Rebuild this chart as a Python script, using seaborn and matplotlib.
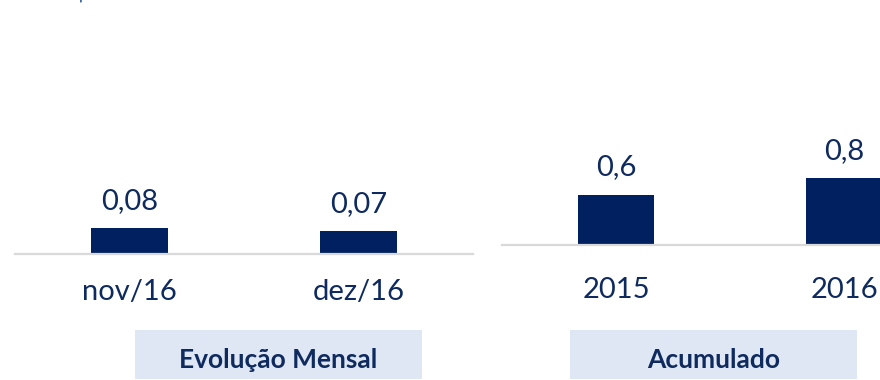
import matplotlib
matplotlib.use("Agg")
import matplotlib.pyplot as plt
from matplotlib.patches import Rectangle
import seaborn as sns
import pandas as pd

# Monthly evolution
monthly_labels = ["nov/16", "dez/16"]
monthly_values = [0.08, 0.07]

# Accumulated per year
yearly_labels = ["2015", "2016"]
yearly_values = [0.6, 0.8]

panel_titles = ["Evolução Mensal", "Acumulado"]
unit_note = "Em R$ milhões"

NAVY = "#002060"
TEXT = "#0E2A5E"
BOX = "#DEE7F3"
AXIS_GREY = "#D9D9D9"

sns.set_theme(style="white")
plt.rcParams["font.family"] = ["Lato", "DejaVu Sans"]

W, H = 880, 380
fig = plt.figure(figsize=(W / 100, H / 100), dpi=100)


def px_rect(x0, y_base, width, height):
    """Axes rect in figure fractions from pixel coordinates (y measured from top)."""
    return [x0 / W, (H - y_base) / H, width / W, height / H]


def fmt(v, decimals):
    return f"{v:.{decimals}f}".replace(".", ",")


def draw_panel(ax, labels, values, ylim, xlim, decimals, label_pad):
    df = pd.DataFrame({"cat": labels, "val": values})
    sns.barplot(data=df, x="cat", y="val", ax=ax, color=NAVY, width=0.333,
                saturation=1, edgecolor="none")
    ax.set_xlim(*xlim)
    ax.set_ylim(*ylim)
    ax.set_xlabel("")
    ax.set_ylabel("")
    ax.set_yticks([])
    sns.despine(ax=ax, left=True, top=True, right=True)
    ax.spines["bottom"].set_color(AXIS_GREY)
    ax.spines["bottom"].set_linewidth(1.6)
    ax.tick_params(axis="x", length=0, pad=label_pad, labelsize=21,
                   labelcolor=TEXT)
    ax.patch.set_alpha(0)
    for i, v in enumerate(values):
        ax.annotate(fmt(v, decimals), xy=(i, v), xytext=(0, 14),
                    textcoords="offset points", ha="center", va="baseline",
                    fontsize=21, color=TEXT)


ax_left = fig.add_axes(px_rect(15, 254, 458, 194))
draw_panel(ax_left, monthly_labels, monthly_values, (0, 194 / 325),
           (-0.5, 1.5), 2, 18)

ax_right = fig.add_axes(px_rect(502, 245, 378, 185))
draw_panel(ax_right, yearly_labels, yearly_values, (0, 185 / 83.5),
           (-0.5, -0.5 + 378 / 228), 1, 23)

# Panel caption boxes
for (x0, x1), title in zip([(135, 422), (570, 857)], panel_titles):
    fig.add_artist(Rectangle((x0 / W, (H - 379) / H), (x1 - x0) / W, 49 / H,
                             transform=fig.transFigure, facecolor=BOX,
                             edgecolor="none"))
    fig.text((x0 + x1) / 2 / W, (H - 368) / H, title, ha="center",
             va="baseline", fontsize=19, fontweight="bold", color=TEXT)

# Unit note along the top edge
fig.text(10 / W, (H + 2) / H, unit_note, ha="left", va="baseline",
         fontsize=20, color="#2F5597")

fig.savefig("out.png", dpi=100)
